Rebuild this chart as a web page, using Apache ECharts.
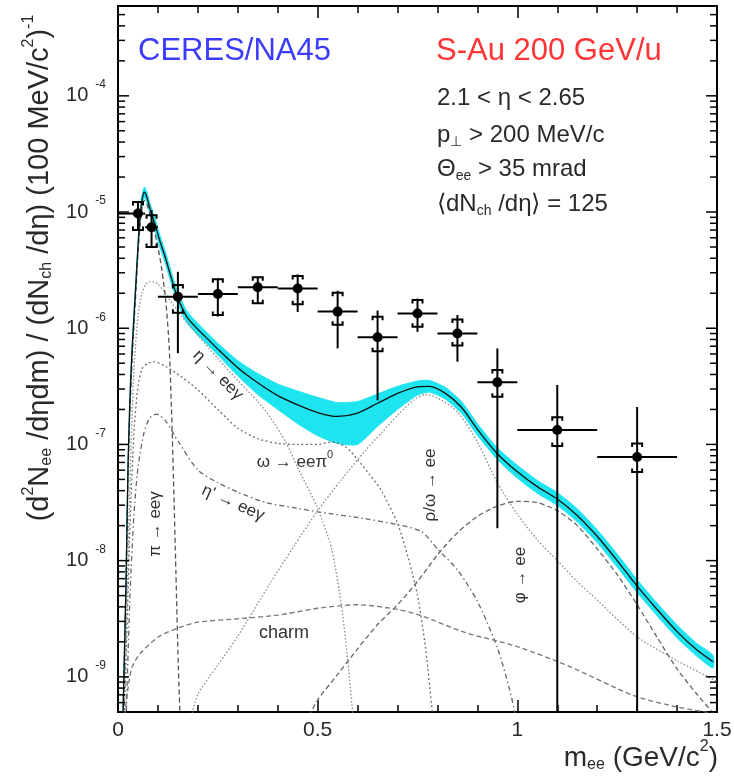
<!DOCTYPE html>
<html>
<head>
<meta charset="utf-8">
<script src="https://cdn.jsdelivr.net/npm/echarts@6/dist/echarts.min.js"></script>
<style>
  html, body { margin: 0; padding: 0; background: #fff; }
  #chart { width: 734px; height: 783px; }
</style>
</head>
<body>
<div id="chart"></div>
<script>
// ---------------- measured dielectron yield, S-Au 200 GeV/u ----------------
const mass    = [0.05, 0.084, 0.15, 0.25, 0.35, 0.45, 0.55, 0.65, 0.75, 0.85, 0.95, 1.1, 1.3];
const binLo   = [0.0, 0.068, 0.1, 0.2, 0.3, 0.4, 0.5, 0.6, 0.7, 0.8, 0.9, 1.0, 1.2];
const binHi   = [0.068, 0.1, 0.2, 0.3, 0.4, 0.5, 0.6, 0.7, 0.8, 0.9, 1.0, 1.2, 1.4];
const yieldEE = [9.7e-6, 7.4e-6, 1.87e-6, 1.97e-6, 2.25e-6, 2.2e-6, 1.39e-6, 8.35e-7, 1.34e-6, 9.0e-7, 3.42e-7, 1.33e-7, 7.8e-8];
const statUp  = [2.5e-6, 3.0e-6, 1.19e-6, 0.71e-6, 0.52e-6, 0.7e-6, 0.71e-6, 0.585e-6, 0.46e-6, 0.4e-6, 0.328e-6, 1.91e-7, 1.32e-7];
const statDn  = [2.7e-6, 2.5e-6, 1.26e-6, 0.71e-6, 0.62e-6, 0.82e-6, 0.72e-6, 0.595e-6, 0.41e-6, 0.385e-6, 0.323e-6, 1.91e-7, 1.32e-7];
const sysUp   = [2.5e-6, 2.0e-6, 0.48e-6, 0.67e-6, 0.49e-6, 0.61e-6, 0.63e-6, 0.42e-6, 0.41e-6, 0.29e-6, 0.095e-6, 0.38e-7, 0.24e-7];
const sysDn   = [2.7e-6, 2.4e-6, 0.51e-6, 0.67e-6, 0.61e-6, 0.59e-6, 0.32e-6, 0.2e-6, 0.31e-6, 0.19e-6, 0.085e-6, 0.36e-7, 0.2e-7];

// ---------------- hadronic cocktail: sum and systematic band ----------------
const totalX = [0.012, 0.02, 0.025, 0.03, 0.035, 0.04, 0.045, 0.05, 0.055, 0.06, 0.066, 0.072, 0.08, 0.093, 0.105, 0.118, 0.132, 0.147, 0.172, 0.2, 0.218, 0.25, 0.3, 0.35, 0.4, 0.45, 0.5, 0.55, 0.6, 0.65, 0.7, 0.75, 0.78, 0.82, 0.86, 0.9, 0.95, 1.0, 1.05, 1.1, 1.15, 1.2, 1.25, 1.3, 1.35, 1.4, 1.45, 1.49];
const totalY = [3.98e-10, 6.31e-9, 6.31e-8, 2.51e-7, 6.31e-7, 1.26e-6, 2.51e-6, 5.01e-6, 8.91e-6, 1.26e-5, 1.48e-5, 1.35e-5, 1.07e-5, 7.76e-6, 5.62e-6, 4.12e-6, 2.82e-6, 1.93e-6, 1.26e-6, 9.77e-7, 8.51e-7, 6.61e-7, 4.57e-7, 3.39e-7, 2.63e-7, 2.19e-7, 1.88e-7, 1.74e-7, 1.86e-7, 2.26e-7, 2.75e-7, 3.13e-7, 3.16e-7, 2.75e-7, 2.09e-7, 1.35e-7, 8.32e-8, 5.82e-8, 4.33e-8, 3.39e-8, 2.45e-8, 1.62e-8, 1.0e-8, 6.03e-9, 3.8e-9, 2.45e-9, 1.7e-9, 1.35e-9];
const bandHi = [4.37e-10, 6.92e-9, 6.92e-8, 2.75e-7, 6.92e-7, 1.38e-6, 2.75e-6, 5.5e-6, 9.89e-6, 1.4e-5, 1.64e-5, 1.5e-5, 1.19e-5, 8.71e-6, 6.31e-6, 4.62e-6, 3.16e-6, 2.17e-6, 1.41e-6, 1.1e-6, 9.55e-7, 7.41e-7, 5.25e-7, 4.07e-7, 3.31e-7, 2.88e-7, 2.54e-7, 2.29e-7, 2.34e-7, 2.72e-7, 3.16e-7, 3.51e-7, 3.55e-7, 3.09e-7, 2.34e-7, 1.51e-7, 9.33e-8, 6.61e-8, 4.9e-8, 3.85e-8, 2.79e-8, 1.84e-8, 1.14e-8, 6.84e-9, 4.31e-9, 2.79e-9, 1.93e-9, 1.53e-9];
const bandLo = [3.63e-10, 5.75e-9, 5.75e-8, 2.29e-7, 5.75e-7, 1.15e-6, 2.29e-6, 4.57e-6, 8.04e-6, 1.14e-5, 1.33e-5, 1.22e-5, 9.66e-6, 6.92e-6, 5.01e-6, 3.67e-6, 2.51e-6, 1.72e-6, 1.12e-6, 8.71e-7, 7.59e-7, 5.89e-7, 3.89e-7, 2.69e-7, 2.0e-7, 1.51e-7, 1.19e-7, 1.02e-7, 1.0e-7, 1.43e-7, 2.0e-7, 2.66e-7, 2.82e-7, 2.45e-7, 1.86e-7, 1.2e-7, 7.41e-8, 5.13e-8, 3.8e-8, 2.99e-8, 2.16e-8, 1.43e-8, 8.81e-9, 5.31e-9, 3.35e-9, 2.16e-9, 1.5e-9, 1.19e-9];

// ---------------- individual cocktail sources ----------------
const pi0X = [0.012, 0.02, 0.025, 0.03, 0.035, 0.04, 0.045, 0.05, 0.055, 0.06, 0.066, 0.072, 0.08, 0.09, 0.1, 0.11, 0.12, 0.128, 0.134, 0.139, 0.145, 0.151, 0.156];
const pi0Y = [3.98e-10, 5.0e-9, 5.0e-8, 2.0e-7, 5.0e-7, 1.07e-6, 2.14e-6, 4.27e-6, 7.59e-6, 1.07e-5, 1.26e-5, 1.17e-5, 9.55e-6, 7.08e-6, 5.01e-6, 3.16e-6, 1.66e-6, 7.08e-7, 2.0e-7, 5.0e-8, 7.94e-9, 1.26e-9, 3.98e-10];

const etaX = [0.015, 0.025, 0.03, 0.035, 0.04, 0.05, 0.06, 0.07, 0.08, 0.09, 0.1, 0.115, 0.13, 0.16, 0.2, 0.25, 0.3, 0.35, 0.38, 0.42, 0.45, 0.5, 0.535, 0.56, 0.575, 0.59];
const etaY = [3.98e-10, 1.0e-8, 5.0e-8, 1.58e-7, 4.47e-7, 1.26e-6, 2.0e-6, 2.4e-6, 2.51e-6, 2.51e-6, 2.4e-6, 2.09e-6, 1.74e-6, 1.26e-6, 8.71e-7, 5.5e-7, 3.55e-7, 2.34e-7, 1.74e-7, 1.05e-7, 6.31e-8, 2.82e-8, 1.26e-8, 3.98e-9, 1.41e-9, 3.98e-10];

const omegaDalX = [0.015, 0.025, 0.03, 0.04, 0.05, 0.06, 0.075, 0.09, 0.12, 0.16, 0.2, 0.25, 0.3, 0.35, 0.4, 0.45, 0.5, 0.535, 0.57, 0.6, 0.63, 0.66, 0.7, 0.727, 0.75, 0.77, 0.79];
const omegaDalY = [3.98e-10, 5.0e-9, 2.0e-8, 1.26e-7, 3.16e-7, 4.47e-7, 5.01e-7, 5.13e-7, 4.68e-7, 3.8e-7, 2.95e-7, 2.0e-7, 1.38e-7, 1.12e-7, 1.02e-7, 1.0e-7, 1.0e-7, 1.05e-7, 9.55e-8, 7.41e-8, 5.5e-8, 3.98e-8, 2.09e-8, 1.05e-8, 5.01e-9, 1.78e-9, 3.98e-10];

const etaPrimeX = [0.02, 0.03, 0.04, 0.05, 0.065, 0.08, 0.097, 0.12, 0.15, 0.2, 0.25, 0.3, 0.37, 0.45, 0.5, 0.62, 0.7, 0.76, 0.8, 0.85, 0.9, 0.95, 0.98, 1.0];
const etaPrimeY = [3.98e-10, 5.0e-9, 2.51e-8, 6.31e-8, 1.26e-7, 1.7e-7, 1.82e-7, 1.58e-7, 1.07e-7, 6.03e-8, 4.68e-8, 3.89e-8, 3.16e-8, 2.82e-8, 2.63e-8, 2.29e-8, 2.04e-8, 1.78e-8, 1.26e-8, 8.32e-9, 4.47e-9, 1.78e-9, 7.94e-10, 3.98e-10];

const rhoX = [0.18, 0.2, 0.25, 0.3, 0.38, 0.44, 0.5, 0.56, 0.62, 0.66, 0.7, 0.74, 0.77, 0.8, 0.85, 0.9, 0.95, 1.0, 1.05, 1.1, 1.15, 1.2, 1.3, 1.4, 1.5];
const rhoY = [3.98e-10, 7.08e-10, 1.26e-9, 2.24e-9, 6.31e-9, 1.32e-8, 2.69e-8, 5.01e-8, 8.91e-8, 1.26e-7, 1.78e-7, 2.4e-7, 2.69e-7, 2.51e-7, 1.91e-7, 1.05e-7, 4.68e-8, 2.51e-8, 1.51e-8, 1.0e-8, 6.61e-9, 4.57e-9, 2.21e-9, 1.38e-9, 9.12e-10];

const phiX = [0.47, 0.5, 0.55, 0.6, 0.65, 0.7, 0.75, 0.8, 0.85, 0.9, 0.95, 1.0, 1.05, 1.1, 1.15, 1.2, 1.25, 1.3, 1.35, 1.4, 1.45, 1.5];
const phiY = [3.98e-10, 6.31e-10, 1.05e-9, 1.74e-9, 2.82e-9, 4.17e-9, 6.61e-9, 1.12e-8, 1.74e-8, 2.4e-8, 2.95e-8, 3.24e-8, 3.16e-8, 2.69e-8, 2.0e-8, 1.26e-8, 7.59e-9, 4.17e-9, 2.19e-9, 1.17e-9, 7.08e-10, 4.47e-10];

const charmX = [0.015, 0.025, 0.035, 0.055, 0.1, 0.15, 0.2, 0.3, 0.4, 0.5, 0.6, 0.7, 0.76, 0.87, 1.0, 1.13, 1.29, 1.4, 1.5];
const charmY = [3.98e-10, 7.94e-10, 1.2e-9, 1.58e-9, 2.19e-9, 2.63e-9, 2.95e-9, 3.16e-9, 3.39e-9, 3.89e-9, 4.17e-9, 3.8e-9, 3.35e-9, 2.4e-9, 1.82e-9, 1.23e-9, 6.92e-10, 5.5e-10, 4.79e-10];

// ---------------- axes ----------------
const xTicks = [0, 0.5, 1, 1.5];
const xTickText = ['0', '0.5', '1', '1.5'];
const yDecades = [-9, -8, -7, -6, -5, -4];
const Y_MIN = 4.98e-10;
const Y_MAX = 5.93e-4;

const FONT = '"Liberation Sans", Arial, Helvetica, sans-serif';
const INK = '#2a2a2a';

// rich-text styles with superscript (sp) and subscript (sb) tokens
function scripts(S, s, raise, drop, color, spLeft) {
  const A = raise + 1;
  const L = 2 * A + S;
  const base = { fontFamily: FONT, color: color, fill: color, lineHeight: L, verticalAlign: 'top' };
  return {
    n:  Object.assign({}, base, { fontSize: S, padding: [A, 0, A, 0] }),
    sp: Object.assign({}, base, { fontSize: s, padding: [A + (S - s) / 2 - raise, 0, 0, spLeft || 0] }),
    sb: Object.assign({}, base, { fontSize: s, padding: [A + (S - s) / 2 + drop, 0, 0, 0] })
  };
}

const pairs = (xs, ys) => xs.map((x, i) => [x, ys[i]]);

// minor and major tick marks of the logarithmic axis (both frame sides)
const yTickMarks = [];
for (let e = -10; e <= -4; e++) {
  for (let k = 1; k <= 9; k++) {
    const v = k * Math.pow(10, e);
    if (v >= Y_MIN && v <= Y_MAX) yTickMarks.push([0, v, k === 1 ? 1 : 0]);
  }
}

function component(name, xs, ys, dash, color) {
  return {
    name: name, type: 'line', data: pairs(xs, ys), showSymbol: false, smooth: 0.25,
    clip: true, z: 3, silent: true,
    lineStyle: { color: color, width: 1.3, type: dash }
  };
}

const chart = echarts.init(document.getElementById('chart'), null, { renderer: 'canvas' });

const xAxisBase = {
  type: 'value', min: 0, max: 1.5, interval: 0.5,
  axisLine: { show: false },
  axisTick: { show: true, inside: true, length: 12, lineStyle: { color: '#000', width: 1.5 } },
  minorTick: { show: true, splitNumber: 5, length: 7, lineStyle: { color: '#000', width: 1.5 } },
  splitLine: { show: false }, minorSplitLine: { show: false }
};

const option = {
  animation: false,
  backgroundColor: '#fff',
  grid: {
    left: 118, right: 17, top: 6, bottom: 71,
    show: true, borderColor: '#000', borderWidth: 2, backgroundColor: 'rgba(0,0,0,0)',
    containLabel: false, outerBoundsMode: 'none'
  },
  xAxis: [
    Object.assign({}, xAxisBase, {
      position: 'bottom',
      axisLabel: {
        fontSize: 21, color: INK, fontFamily: FONT, margin: 8,
        formatter: v => { const i = xTicks.findIndex(t => Math.abs(t - v) < 1e-9); return i >= 0 ? xTickText[i] : ''; }
      }
    }),
    Object.assign({}, xAxisBase, { position: 'top', axisLabel: { show: false } })
  ],
  yAxis: {
    type: 'log', logBase: 10, min: Y_MIN, max: Y_MAX,
    axisLine: { show: false }, axisTick: { show: false }, splitLine: { show: false },
    axisLabel: {
      margin: 12,
      formatter: v => {
        const e = Math.log10(v);
        const r = Math.round(e);
        if (Math.abs(e - r) > 0.01 || yDecades.indexOf(r) < 0) return '';
        return '{n|10}{sp|' + r + '}';
      },
      rich: scripts(20, 12, 11, 0, INK, 7)
    }
  },
  series: [
    {
      // cocktail systematic band
      type: 'custom', z: 1, silent: true, clip: true,
      data: [[0.5, 1e-6]],
      renderItem: (params, api) => {
        const pts = [];
        for (let i = 0; i < totalX.length; i++) pts.push(api.coord([totalX[i], bandHi[i]]));
        for (let i = totalX.length - 1; i >= 0; i--) pts.push(api.coord([totalX[i], bandLo[i]]));
        return { type: 'polygon', shape: { points: pts, smooth: 0.2 }, style: { fill: '#1ee4ef', stroke: '#1ee4ef', lineWidth: 1 } };
      }
    },
    component('π0 Dalitz', pi0X, pi0Y, [5, 3], '#555'),
    component('η Dalitz', etaX, etaY, [1.5, 2], '#8a8a8a'),
    component('ω Dalitz', omegaDalX, omegaDalY, [2, 2.5], '#6e6e6e'),
    component('η\' Dalitz', etaPrimeX, etaPrimeY, [5, 3, 1.5, 3], '#666'),
    component('ρ/ω', rhoX, rhoY, [1.5, 2], '#8a8a8a'),
    component('φ', phiX, phiY, [5, 3], '#666'),
    component('charm', charmX, charmY, [5, 3], '#777'),
    {
      name: 'cocktail sum', type: 'line', data: pairs(totalX, totalY), showSymbol: false,
      smooth: 0.25, clip: true, z: 4, silent: true,
      lineStyle: { color: '#111', width: 1.3 }
    },
    {
      // data points with bin width, statistical bars and systematic brackets
      type: 'custom', z: 6, clip: true, silent: true,
      data: pairs(mass, yieldEE),
      renderItem: (params, api) => {
        const i = params.dataIndex;
        const cs = params.coordSys;
        const bottom = cs.y + cs.height;
        const y0 = yieldEE[i];
        const c = api.coord([mass[i], y0]);
        const xl = api.coord([binLo[i], y0])[0];
        const xh = api.coord([binHi[i], y0])[0];
        const yTop = api.coord([mass[i], y0 + statUp[i]])[1];
        const lo = y0 - statDn[i];
        const yBot = lo > Y_MIN ? api.coord([mass[i], lo])[1] : bottom;
        const sTop = api.coord([mass[i], y0 + sysUp[i]])[1];
        const sBot = api.coord([mass[i], y0 - sysDn[i]])[1];
        const st = { stroke: '#000', lineWidth: 2, fill: null };
        const w = 5, t = 3.5;
        return {
          type: 'group',
          children: [
            { type: 'line', shape: { x1: xl, y1: c[1], x2: xh, y2: c[1] }, style: st },
            { type: 'line', shape: { x1: c[0], y1: yTop, x2: c[0], y2: yBot }, style: st },
            { type: 'polyline', shape: { points: [[c[0] - w, sTop + t], [c[0] - w, sTop], [c[0] + w, sTop], [c[0] + w, sTop + t]] }, style: st },
            { type: 'polyline', shape: { points: [[c[0] - w, sBot - t], [c[0] - w, sBot], [c[0] + w, sBot], [c[0] + w, sBot - t]] }, style: st },
            { type: 'circle', shape: { cx: c[0], cy: c[1], r: 5 }, style: { fill: '#000' } }
          ]
        };
      }
    },
    {
      // tick marks of the log axis on the left and right frame
      type: 'custom', z: 7, silent: true, clip: false,
      data: yTickMarks,
      encode: { x: 0, y: 1 },
      renderItem: (params, api) => {
        const cs = params.coordSys;
        const y = api.coord([0, api.value(1)])[1];
        const len = api.value(2) ? 11 : 7;
        const st = { stroke: '#000', lineWidth: 1.5 };
        return {
          type: 'group',
          children: [
            { type: 'line', shape: { x1: cs.x, y1: y, x2: cs.x + len, y2: y }, style: st },
            { type: 'line', shape: { x1: cs.x + cs.width, y1: y, x2: cs.x + cs.width - len, y2: y }, style: st }
          ]
        };
      }
    }
  ],
  graphic: [
    {
      type: 'text', x: 40, y: 268, rotation: Math.PI / 2, z: 10,
      style: {
        text: '{n|(d}{sp|2}{n|N}{sb|ee}{n| /dηdm) / (dN}{sb|ch}{n| /dη) (100 MeV/c}{sp|2}{n|)}{sp|-1}',
        rich: scripts(29, 16, 11, 7, INK), align: 'center', verticalAlign: 'middle'
      }
    },
    {
      type: 'text', x: 718, y: 758, z: 10,
      style: {
        text: '{n|m}{sb|ee}{n| (GeV/c}{sp|2}{n|)}',
        rich: scripts(28, 16, 11, 7, INK), align: 'right', verticalAlign: 'middle'
      }
    },
    {
      type: 'text', x: 138, y: 51, z: 10,
      style: { text: 'CERES/NA45', fontSize: 31, fontFamily: FONT, fill: '#3c3cff', align: 'left', verticalAlign: 'middle' }
    },
    {
      type: 'text', x: 436, y: 51, z: 10,
      style: { text: 'S-Au 200 GeV/u', fontSize: 31, fontFamily: FONT, fill: '#ff3535', align: 'left', verticalAlign: 'middle' }
    },
    { type: 'text', x: 437, y: 98, z: 10, style: { text: '{n|2.1 < η < 2.65}', rich: scripts(24, 14, 9, 7, INK), align: 'left', verticalAlign: 'middle' } },
    { type: 'text', x: 437, y: 135, z: 10, style: { text: '{n|p}{sb|⊥}{n| > 200 MeV/c}', rich: scripts(24, 14, 9, 7, INK), align: 'left', verticalAlign: 'middle' } },
    { type: 'text', x: 437, y: 169, z: 10, style: { text: '{n|Θ}{sb|ee}{n| > 35 mrad}', rich: scripts(24, 14, 9, 7, INK), align: 'left', verticalAlign: 'middle' } },
    { type: 'text', x: 437, y: 204, z: 10, style: { text: '{n|⟨dN}{sb|ch}{n| /dη⟩ = 125}', rich: scripts(24, 14, 9, 7, INK), align: 'left', verticalAlign: 'middle' } },

    { type: 'text', x: 218, y: 375, rotation: -Math.PI / 4, z: 10, style: { text: '{n|η → eeγ}', rich: scripts(17, 11, 7, 4, '#333'), align: 'center', verticalAlign: 'middle' } },
    { type: 'text', x: 295, y: 462, z: 10, style: { text: '{n|ω → eeπ}{sp|0}', rich: scripts(17, 11, 7, 4, '#333'), align: 'center', verticalAlign: 'middle' } },
    { type: 'text', x: 233, y: 503, rotation: -0.42, z: 10, style: { text: '{n|η\' → eeγ}', rich: scripts(17, 11, 7, 4, '#333'), align: 'center', verticalAlign: 'middle' } },
    { type: 'text', x: 155, y: 524, rotation: Math.PI / 2, z: 10, style: { text: '{n|π → eeγ}', rich: scripts(17, 11, 7, 4, '#333'), align: 'center', verticalAlign: 'middle' } },
    { type: 'text', x: 430, y: 485, rotation: Math.PI / 2, z: 10, style: { text: '{n|ρ/ω → ee}', rich: scripts(17, 11, 7, 4, '#333'), align: 'center', verticalAlign: 'middle' } },
    { type: 'text', x: 520, y: 575, rotation: Math.PI / 2, z: 10, style: { text: '{n|φ → ee}', rich: scripts(17, 11, 7, 4, '#333'), align: 'center', verticalAlign: 'middle' } },
    { type: 'text', x: 284, y: 633, z: 10, style: { text: 'charm', fontSize: 18, fontFamily: FONT, fill: '#333', align: 'center', verticalAlign: 'middle' } }
  ]
};

chart.setOption(option);
</script>
</body>
</html>
